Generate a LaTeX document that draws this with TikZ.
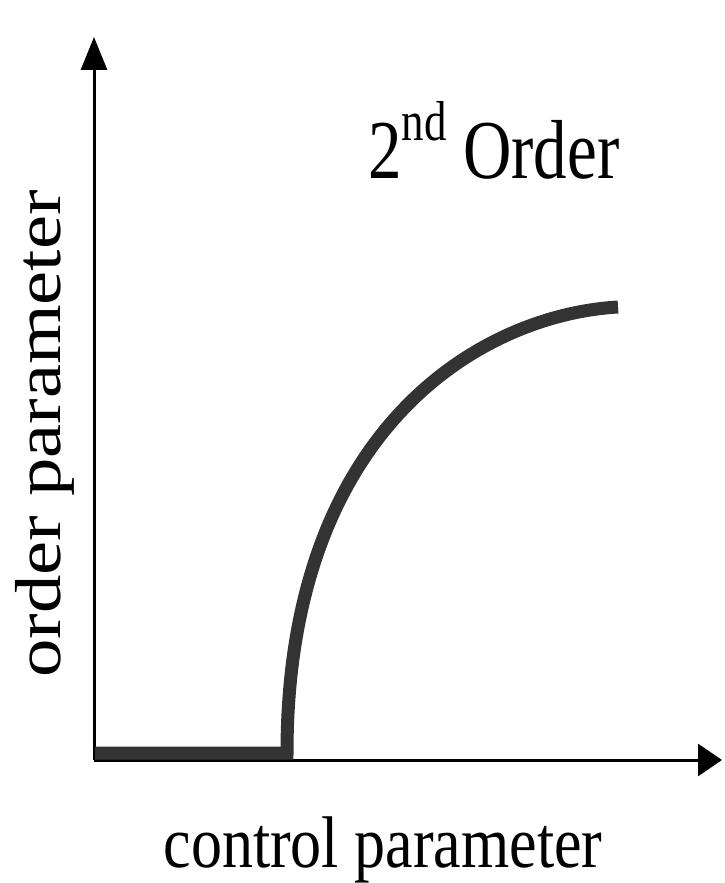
\documentclass[tikz,border=0pt]{standalone}
\usepackage{fontspec}
\setmainfont{Liberation Serif}
\usetikzlibrary{arrows.meta}
\definecolor{curvegray}{HTML}{333333}
\begin{document}
\begin{tikzpicture}[x=1pt,y=-1pt,
  axis/.style={line width=3pt,black},
  curve/.style={line width=13pt,curvegray,line join=miter,line cap=butt},
  lbl/.style={inner sep=0pt,outer sep=0pt}]
\useasboundingbox (0,0) rectangle (724,883);
\coordinate (O) at (94,760);
\coordinate (ytip) at (94,37);
\coordinate (xtip) at (722,760);
\draw[axis,-{Triangle[length=33pt,width=26pt]}] (O) -- (ytip);
\draw[axis,-{Triangle[length=24pt,width=32pt]}] (O) -- (xtip);
\coordinate (c0) at (95,753);
\coordinate (c1) at (287,753);
\coordinate (c2) at (618,307);
\draw[curve] (c0) -- (c1) .. controls (287,430) and (480,315) .. (c2);
\node[lbl,anchor=base west] (title) at (368,178)
  {\scalebox{1}[1.25]{\fontsize{67}{67}\selectfont 2\raisebox{30pt}{\fontsize{45}{45}\selectfont nd} Order}};
\node[lbl,anchor=base] (xlabel) at (383,867)
  {\scalebox{1}[1.18]{\fontsize{62}{62}\selectfont control parameter}};
\node[lbl,anchor=base,rotate=90] (ylabel) at (60,434)
  {\scalebox{1.18}[1]{\fontsize{65}{65}\selectfont order parameter}};
\end{tikzpicture}
\end{document}
